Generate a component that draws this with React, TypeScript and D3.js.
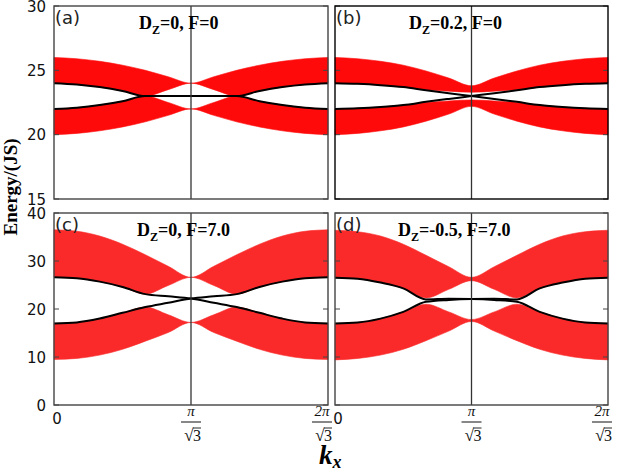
import * as d3 from 'd3';

const K_MAX = (2 * Math.PI) / Math.sqrt(3);

// k_x sample points, 0 .. 2pi/sqrt(3)
const kx = [0, 0.302, 0.605, 0.907, 1.209, 1.512, 1.814, 2.116, 2.418, 2.721, 3.023, 3.325, 3.628];

// (a) Dz=0, F=0
const aUpTop = [26.0, 25.9, 25.7, 25.4, 25.0, 24.5, 24.0, 24.5, 25.0, 25.4, 25.7, 25.9, 26.0];
const aUpBot = [24.0, 23.9, 23.7, 23.4, 23.0, 23.5, 24.0, 23.5, 23.0, 23.4, 23.7, 23.9, 24.0];
const aLoTop = [22.0, 22.1, 22.3, 22.6, 23.0, 22.5, 22.0, 22.5, 23.0, 22.6, 22.3, 22.1, 22.0];
const aLoBot = [20.0, 20.1, 20.3, 20.6, 21.0, 21.5, 22.0, 21.5, 21.0, 20.6, 20.3, 20.1, 20.0];
const aEdge1 = [24.0, 23.9, 23.7, 23.4, 23.0, 23.0, 23.0, 23.0, 23.0, 22.6, 22.3, 22.1, 22.0];
const aEdge2 = [22.0, 22.1, 22.3, 22.6, 23.0, 23.0, 23.0, 23.0, 23.0, 23.4, 23.7, 23.9, 24.0];

// (b) Dz=0.2, F=0
const bUpTop = [26.0, 25.9, 25.7, 25.4, 24.95, 24.4, 23.8, 24.4, 24.95, 25.4, 25.7, 25.9, 26.0];
const bUpBot = [24.0, 23.95, 23.85, 23.7, 23.5, 23.38, 23.3, 23.38, 23.5, 23.7, 23.85, 23.95, 24.0];
const bLoTop = [22.0, 22.05, 22.15, 22.3, 22.5, 22.62, 22.7, 22.62, 22.5, 22.3, 22.15, 22.05, 22.0];
const bLoBot = [20.0, 20.1, 20.3, 20.6, 21.05, 21.6, 22.2, 21.6, 21.05, 20.6, 20.3, 20.1, 20.0];
const bEdge1 = [24.0, 23.95, 23.85, 23.7, 23.45, 23.22, 23.0, 22.78, 22.55, 22.3, 22.15, 22.05, 22.0];
const bEdge2 = [22.0, 22.05, 22.15, 22.3, 22.55, 22.78, 23.0, 23.22, 23.45, 23.7, 23.85, 23.95, 24.0];

// (c) Dz=0, F=7.0
const cUpTop = [36.5, 36.2, 35.2, 33.5, 31.3, 28.9, 26.6, 28.9, 31.3, 33.5, 35.2, 36.2, 36.5];
const cUpBot = [26.6, 26.4, 25.7, 24.6, 23.1, 24.9, 26.6, 24.9, 23.1, 24.6, 25.7, 26.4, 26.6];
const cLoTop = [17.0, 17.2, 18.0, 19.2, 20.4, 18.8, 17.2, 18.8, 20.4, 19.2, 18.0, 17.2, 17.0];
const cLoBot = [9.5, 9.7, 10.4, 11.6, 13.3, 15.1, 17.2, 15.1, 13.3, 11.6, 10.4, 9.7, 9.5];
const cEdge1 = [26.6, 26.4, 25.7, 24.6, 23.1, 22.65, 22.2, 21.3, 20.4, 19.2, 18.0, 17.2, 17.0];
const cEdge2 = [17.0, 17.2, 18.0, 19.2, 20.4, 21.3, 22.2, 22.65, 23.1, 24.6, 25.7, 26.4, 26.6];

// (d) Dz=-0.5, F=7.0
const dUpTop = [36.4, 36.1, 35.2, 33.5, 31.2, 28.8, 26.6, 28.8, 31.2, 33.5, 35.2, 36.1, 36.4];
const dUpBot = [26.5, 26.3, 25.5, 24.3, 22.3, 24.1, 25.9, 24.1, 22.3, 24.3, 25.5, 26.3, 26.5];
const dLoTop = [17.0, 17.2, 18.0, 19.4, 21.0, 19.4, 17.8, 19.4, 21.0, 19.4, 18.0, 17.2, 17.0];
const dLoBot = [9.4, 9.7, 10.4, 11.6, 13.4, 15.4, 17.4, 15.4, 13.4, 11.6, 10.4, 9.7, 9.4];
const dEdge1 = [26.5, 26.3, 25.5, 24.3, 22.0, 22.15, 22.1, 21.9, 21.5, 19.4, 18.0, 17.2, 17.0];
const dEdge2 = [17.0, 17.2, 18.0, 19.4, 21.5, 21.9, 22.1, 22.15, 22.0, 24.3, 25.5, 26.3, 26.5];

const topTicks = [15, 20, 25, 30];
const bottomTicks = [0, 10, 20, 30, 40];

interface PanelSpec {
  label: string;
  dz: string;
  titleX: number;
  x0: number;
  x1: number;
  y0: number;
  y1: number;
  domain: [number, number];
  ticks: number[];
  showY: boolean;
  showX: boolean;
  bands: number[][][];
  edges: number[][];
  frame: string;
}

const panels: PanelSpec[] = [
  {
    label: '(a)', dz: '=0, F=0', titleX: 139, x0: 54, x1: 328, y0: 6, y1: 199,
    domain: [15, 30], ticks: topTicks, showY: true, showX: false,
    bands: [[aUpTop, aUpBot], [aLoTop, aLoBot]], edges: [aEdge1, aEdge2], frame: '#444',
  },
  {
    label: '(b)', dz: '=0.2, F=0', titleX: 409, x0: 335, x1: 608, y0: 6, y1: 199,
    domain: [15, 30], ticks: topTicks, showY: false, showX: false,
    bands: [[bUpTop, bUpBot], [bLoTop, bLoBot]], edges: [bEdge1, bEdge2], frame: '#000',
  },
  {
    label: '(c)', dz: '=0, F=7.0', titleX: 137, x0: 54, x1: 328, y0: 213, y1: 405,
    domain: [0, 40], ticks: bottomTicks, showY: true, showX: true,
    bands: [[cUpTop, cUpBot], [cLoTop, cLoBot]], edges: [cEdge1, cEdge2], frame: '#444',
  },
  {
    label: '(d)', dz: '=-0.5, F=7.0', titleX: 398, x0: 335, x1: 608, y0: 213, y1: 405,
    domain: [0, 40], ticks: bottomTicks, showY: false, showX: true,
    bands: [[dUpTop, dUpBot], [dLoTop, dLoBot]], edges: [dEdge1, dEdge2], frame: '#444',
  },
];

const idx = kx.map((_, i) => i);

function Frac({ cx, top, num }: { cx: number; top: number; num: string }) {
  return (
    <g fontFamily="'Liberation Serif', serif" fill="#111">
      <text x={cx} y={top + 8} textAnchor="middle" fontSize={15} fontStyle="italic">{num}</text>
      <line x1={cx - 10} x2={cx + 10} y1={top + 14} y2={top + 14} stroke="#111" strokeWidth={1} />
      <text x={cx - 2} y={top + 33} textAnchor="middle" fontSize={17}>√</text>
      <line x1={cx + 2} x2={cx + 10} y1={top + 20} y2={top + 20} stroke="#111" strokeWidth={0.9} />
      <text x={cx + 6} y={top + 33} textAnchor="middle" fontSize={16}>3</text>
    </g>
  );
}

function Panel({ p }: { p: PanelSpec }) {
  const x = d3.scaleLinear().domain([0, K_MAX]).range([p.x0, p.x1]);
  const y = d3.scaleLinear().domain(p.domain).range([p.y1, p.y0]);
  const area = (top: number[], bot: number[]) =>
    d3.area<number>()
      .x((i) => x(kx[i]))
      .y0((i) => y(bot[i]))
      .y1((i) => y(top[i]))
      .curve(d3.curveMonotoneX)(idx) ?? '';
  const line = (v: number[]) =>
    d3.line<number>()
      .x((i) => x(kx[i]))
      .y((i) => y(v[i]))
      .curve(d3.curveMonotoneX)(idx) ?? '';
  const xm = x(K_MAX / 2);
  const redFill = p.domain[1] > 30 ? '#fa2a2a' : '#ff0a0a';
  return (
    <g>
      {p.bands.map((b, i) => (
        <path key={i} d={area(b[0], b[1])} fill={redFill} stroke={redFill} strokeWidth={0.6} />
      ))}
      {p.edges.map((e, i) => (
        <path key={i} d={line(e)} fill="none" stroke="#000" strokeWidth={2} />
      ))}
      <line x1={xm} x2={xm} y1={p.y0} y2={p.y1} stroke="#333" strokeWidth={1.3} />
      {p.ticks.map((t) => (
        <g key={t}>
          <line x1={p.x0} x2={p.x0 + 5} y1={y(t)} y2={y(t)} stroke="#444" />
          <line x1={p.x1 - 5} x2={p.x1} y1={y(t)} y2={y(t)} stroke="#444" />
        </g>
      ))}
      <rect x={p.x0} y={p.y0} width={p.x1 - p.x0} height={p.y1 - p.y0} fill="none" stroke={p.frame} strokeWidth={1.4} />
      {p.showY && p.ticks.map((t) => (
        <text key={t} x={p.x0 - 8} y={y(t) + 5.5} textAnchor="end" fontSize={15} fontFamily="'DejaVu Sans', sans-serif" fill="#111">{t}</text>
      ))}
      {p.showX && (
        <g>
          <text x={p.x0 + 3} y={424} textAnchor="middle" fontSize={15} fontFamily="'DejaVu Sans', sans-serif" fill="#111">0</text>
          <Frac cx={xm} top={408} num="π" />
          <Frac cx={p.x1 - 6} top={408} num="2π" />
        </g>
      )}
      <text x={p.x0 + 1} y={p.y0 + 18} fontSize={18} fontFamily="'DejaVu Sans', sans-serif" fill="#222">{p.label}</text>
      <text x={p.titleX} y={p.y0 + 23} fontSize={18} fontWeight="bold" fontFamily="'Liberation Serif', serif" fill="#000">
        D<tspan fontSize={12} dy={5}>Z</tspan><tspan dy={-5}>{p.dz}</tspan>
      </text>
    </g>
  );
}

export default function App() {
  return (
    <div style={{ position: 'fixed', left: 0, top: 0 }}>
      <svg width={617} height={469} style={{ display: 'block', background: '#fff' }}>
        {panels.map((p) => (
          <Panel key={p.label} p={p} />
        ))}
        <text
          transform="translate(17,187) rotate(-90)"
          textAnchor="middle"
          fontSize={19}
          fontWeight="bold"
          fontFamily="'Liberation Serif', serif"
          fill="#000"
        >
          Energy/(JS)
        </text>
        <text x={319} y={464} fontSize={27} fontWeight="bold" fontStyle="italic" fontFamily="'Liberation Serif', serif" fill="#000">
          k<tspan fontSize={18} dy={4}>x</tspan>
        </text>
      </svg>
    </div>
  );
}
